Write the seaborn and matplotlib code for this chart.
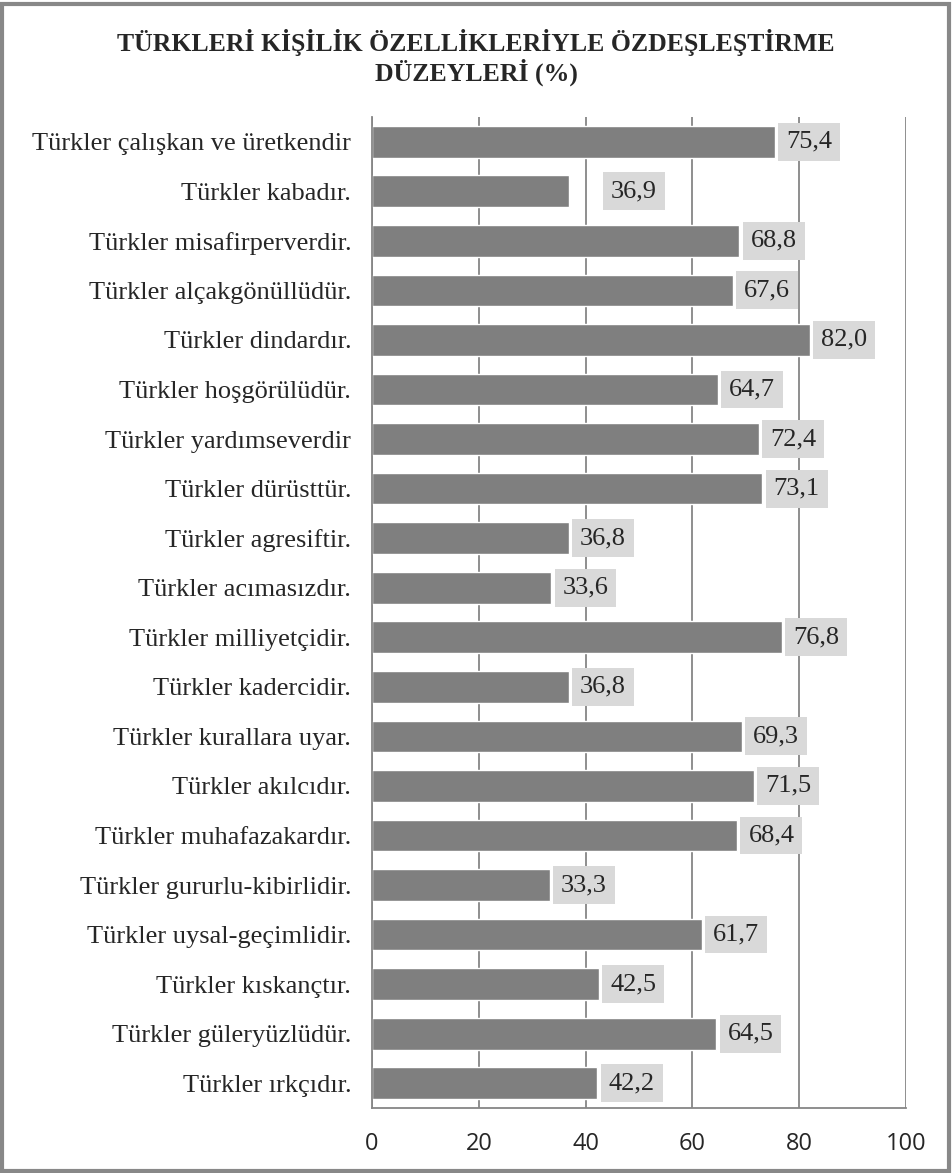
import matplotlib
matplotlib.use("Agg")
import matplotlib.pyplot as plt
from matplotlib.patches import Rectangle
import seaborn as sns
import pandas as pd

kategoriler = [
    "Türkler çalışkan ve üretkendir",
    "Türkler kabadır.",
    "Türkler misafirperverdir.",
    "Türkler alçakgönüllüdür.",
    "Türkler dindardır.",
    "Türkler hoşgörülüdür.",
    "Türkler yardımseverdir",
    "Türkler dürüsttür.",
    "Türkler agresiftir.",
    "Türkler acımasızdır.",
    "Türkler milliyetçidir.",
    "Türkler kadercidir.",
    "Türkler kurallara uyar.",
    "Türkler akılcıdır.",
    "Türkler muhafazakardır.",
    "Türkler gururlu-kibirlidir.",
    "Türkler uysal-geçimlidir.",
    "Türkler kıskançtır.",
    "Türkler güleryüzlüdür.",
    "Türkler ırkçıdır.",
]
yuzdeler = [75.4, 36.9, 68.8, 67.6, 82.0, 64.7, 72.4, 73.1, 36.8, 33.6,
            76.8, 36.8, 69.3, 71.5, 68.4, 33.3, 61.7, 42.5, 64.5, 42.2]
x_ticks = [0, 20, 40, 60, 80, 100]

df = pd.DataFrame({"kategori": kategoriler, "yuzde": yuzdeler})

sns.set_style("white")
plt.rcParams['font.family'] = ['Liberation Serif', 'DejaVu Serif']

fig = plt.figure(figsize=(9.52, 11.73), dpi=100)
ax = fig.add_axes([0.3908, 0.0554, 0.5609, 0.8449])

sns.barplot(data=df, y="kategori", x="yuzde", color="#7f7f7f", saturation=1,
            width=0.64, orient="h", ax=ax)

ax.set_xlim(0, 100)
ax.set_ylim(len(kategoriler) - 0.5, -0.5)
ax.set_xticks(x_ticks)
ax.set_xticklabels([str(t) for t in x_ticks], family=['Open Sans', 'DejaVu Sans'], fontsize=17)
ax.tick_params(axis='x', length=0, pad=17)
ax.tick_params(axis='y', length=0, pad=15, labelsize=19)
ax.set_xlabel("")
ax.set_ylabel("")
ax.grid(axis='x', color="#868686", linewidth=1.3)
ax.set_axisbelow(True)
for s in ["top", "right"]:
    ax.spines[s].set_visible(False)
for s in ["left", "bottom"]:
    ax.spines[s].set_color("#868686")
    ax.spines[s].set_linewidth(1.3)

# deger etiketleri (gri kutulu)
for i, v in enumerate(yuzdeler):
    ofset = 30 if i == 1 else 8
    ax.annotate(f"{v:.1f}".replace(".", ","), xy=(v, i), xytext=(ofset, 0),
                textcoords="offset points", ha="left", va="center", fontsize=19,
                bbox=dict(boxstyle="square,pad=0.3", fc="#d9d9d9", ec="none"))

fig.text(0.5, 0.951, "TÜRKLERİ KİŞİLİK ÖZELLİKLERİYLE ÖZDEŞLEŞTİRME\nDÜZEYLERİ (%)",
         ha="center", va="center", fontsize=18.5, fontweight="bold", linespacing=1.15)

# cerceve
fig.patches.append(Rectangle((0.002, 0.002), 0.995, 0.995, transform=fig.transFigure,
                             fill=False, ec="#888888", lw=3))

fig.savefig("out.png", dpi=100)
